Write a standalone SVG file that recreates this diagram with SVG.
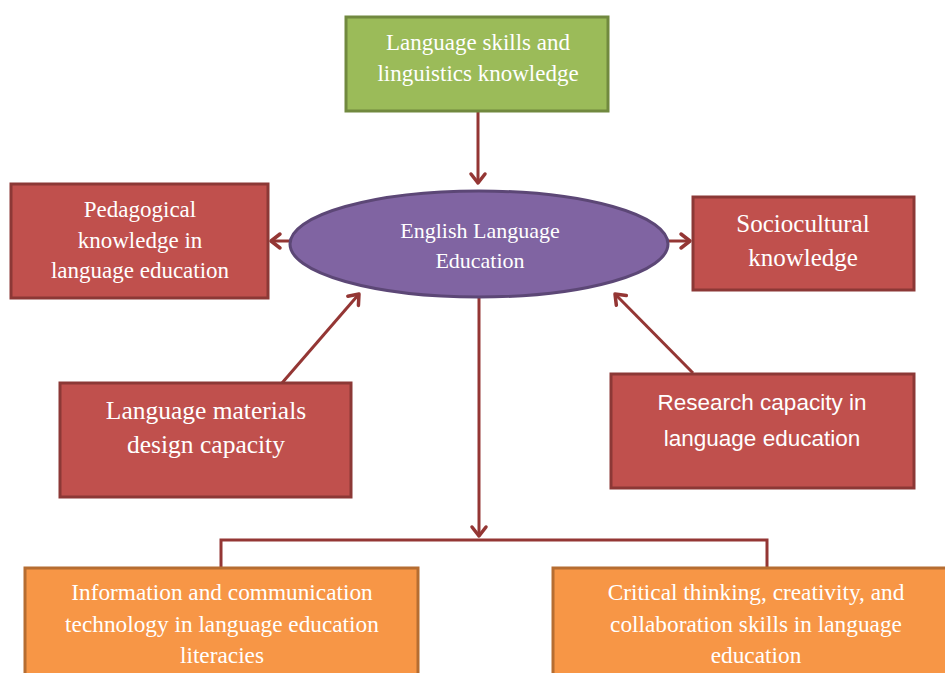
<svg xmlns="http://www.w3.org/2000/svg" width="945" height="673" viewBox="0 0 945 673">
<style>
.red{fill:#C0504D;stroke:#8C3836;stroke-width:3}
.green{fill:#9BBB59;stroke:#71893F;stroke-width:3}
.orange{fill:#F79646;stroke:#B66D31;stroke-width:3}
.ell{fill:#8064A2;stroke:#5C4776;stroke-width:3}
.t{font-family:"Liberation Serif","Times New Roman",serif;fill:#FFFFFF;text-anchor:middle}
.ts{font-family:"Liberation Sans",Arial,sans-serif;fill:#FFFFFF;text-anchor:middle}
.c{stroke:#943634;stroke-width:3;fill:none}
</style>
<defs>
<marker id="ah" markerUnits="userSpaceOnUse" markerWidth="24" markerHeight="24" viewBox="-12 -12 24 24" refX="0" refY="0" orient="auto">
<path d="M-9,-7 L0,0 L-9,7" fill="none" stroke="#943634" stroke-width="3.5" stroke-linecap="round" stroke-linejoin="round"/>
</marker>
</defs>
<g id="connectors">
<line class="c" x1="478" y1="111" x2="478" y2="183" marker-end="url(#ah)"/>
<line class="c" x1="308" y1="241" x2="271" y2="241" marker-end="url(#ah)"/>
<line class="c" x1="660" y1="241" x2="690" y2="241" marker-end="url(#ah)"/>
<line class="c" x1="282" y1="383" x2="359" y2="294" marker-end="url(#ah)"/>
<line class="c" x1="693" y1="373" x2="615" y2="294" marker-end="url(#ah)"/>
<line class="c" x1="479" y1="298" x2="479" y2="536" marker-end="url(#ah)"/>
<path class="c" d="M221,567 V540 H767 V567"/>
</g>
<g id="skills">
<rect class="green" x="346" y="17" width="262" height="94"/>
<text class="t" font-size="23" x="478" y="50">Language skills and</text>
<text class="t" font-size="23" x="478" y="81">linguistics knowledge</text>
</g>
<g id="ele">
<ellipse class="ell" cx="479" cy="244" rx="189" ry="53"/>
<text class="t" font-size="22" x="480" y="238">English Language</text>
<text class="t" font-size="22" x="480" y="268">Education</text>
</g>
<g id="pedagogical">
<rect class="red" x="11" y="184" width="257" height="114"/>
<text class="t" font-size="23" x="140" y="217">Pedagogical</text>
<text class="t" font-size="23" x="140" y="248">knowledge in</text>
<text class="t" font-size="23" x="140" y="278">language education</text>
</g>
<g id="sociocultural">
<rect class="red" x="693" y="197" width="221" height="93"/>
<text class="t" font-size="25" x="803" y="232">Sociocultural</text>
<text class="t" font-size="25" x="803" y="266">knowledge</text>
</g>
<g id="materials">
<rect class="red" x="60" y="383" width="291" height="114"/>
<text class="t" font-size="25.5" x="206" y="419">Language materials</text>
<text class="t" font-size="25.5" x="206" y="453">design capacity</text>
</g>
<g id="research">
<rect class="red" x="611" y="374" width="303" height="114"/>
<text class="ts" font-size="22.5" x="762" y="410">Research capacity in</text>
<text class="ts" font-size="22.5" x="762" y="446">language education</text>
</g>
<g id="ict">
<rect class="orange" x="25" y="568" width="393" height="120"/>
<text class="t" font-size="23.3" x="222" y="600">Information and communication</text>
<text class="t" font-size="23.3" x="222" y="632">technology in language education</text>
<text class="t" font-size="23.3" x="222" y="663">literacies</text>
</g>
<g id="critical">
<rect class="orange" x="553" y="568" width="410" height="120"/>
<text class="t" font-size="23.3" x="756" y="600">Critical thinking, creativity, and</text>
<text class="t" font-size="23.3" x="756" y="632">collaboration skills in language</text>
<text class="t" font-size="23.3" x="756" y="663">education</text>
</g>
</svg>
